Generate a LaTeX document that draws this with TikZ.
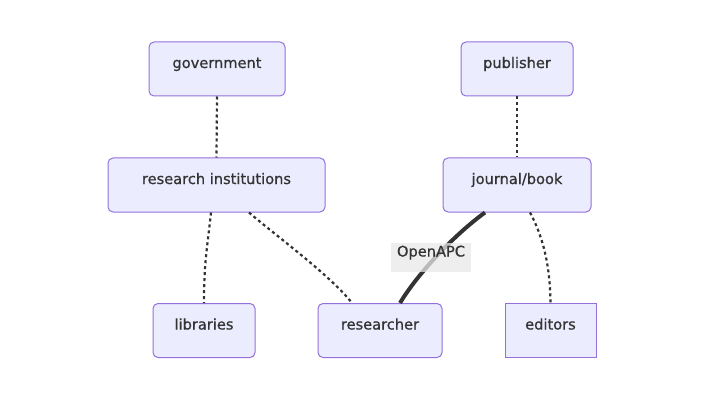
\documentclass[tikz,border=0pt]{standalone}
\usepackage{fontspec}
\setmainfont{DejaVu Sans}
\newfontfamily\nodefont{DejaVu Sans}[BoldFont={DejaVu Sans},BoldFeatures={FakeBold=0.8}]
\begin{document}
\begin{tikzpicture}[x=1pt,y=-1pt,
  box/.style={draw=boxborder,fill=boxfill,line width=1pt,rounded corners=5pt,
    inner sep=0pt,text=txt,font=\nodefont\bfseries\fontsize{14.6}{17}\selectfont,
    text height=9pt,text depth=11pt,minimum height=54pt},
  sqbox/.style={box,rounded corners=0pt},
  dotline/.style={draw=txt,line width=2.2pt,dash pattern=on 3pt off 3pt},
  solidline/.style={draw=txt,line width=4pt},
  lbl/.style={fill=lblfill,fill opacity=0.75,text opacity=1,text=txt,
    font=\nodefont\bfseries\fontsize{14.6}{17}\selectfont,inner xsep=6pt,inner ysep=0pt,
    text height=14pt,text depth=15pt}
]
\definecolor{boxfill}{HTML}{ECECFF}
\definecolor{boxborder}{HTML}{9370DB}
\definecolor{txt}{HTML}{333333}
\definecolor{lblfill}{HTML}{E8E8E8}
\useasboundingbox (0,0) rectangle (724,404);

\node[box,minimum width=136pt] (gov) at (217,69) {government};
\node[box,minimum width=112pt] (pub) at (517,69) {publisher};
\node[box,minimum width=217pt] (ri) at (216.5,185) {research institutions};
\node[box,minimum width=148pt] (jb) at (517,185) {journal/book};
\node[box,minimum width=102pt] (lib) at (204,330.5) {libraries};
\node[box,minimum width=124pt] (res) at (380,330.5) {researcher};
\node[sqbox,minimum width=91pt] (ed) at (550.5,330.5) {editors};

\coordinate (riL) at ([xshift=-5.5pt]ri.south);
\coordinate (riR) at ([xshift=32.5pt]ri.south);
\coordinate (resL) at ([xshift=-28pt]res.north);
\coordinate (resR) at ([xshift=20pt]res.north);
\coordinate (jbL) at ([xshift=-32pt]jb.south);
\coordinate (jbR) at ([xshift=13pt]jb.south);
\coordinate (libT) at (lib.north);
\coordinate (edT) at (ed.north);

\draw[dotline] (gov.south) -- (ri.north);
\draw[dotline] (pub.south) -- (jb.north);
\draw[dotline] (riL) .. controls (207,250) and (204,262) .. (libT);
\draw[dotline] (riR) .. controls (275,235) and (330,275) .. (resL);
\draw[dotline] (jbR) .. controls (542,235) and (550,262) .. (edT);
\draw[solidline] (jbL) .. controls (458,232) and (420,270) .. (resR);
\node[lbl] (apc) at (431,257) {OpenAPC};
\end{tikzpicture}
\end{document}
